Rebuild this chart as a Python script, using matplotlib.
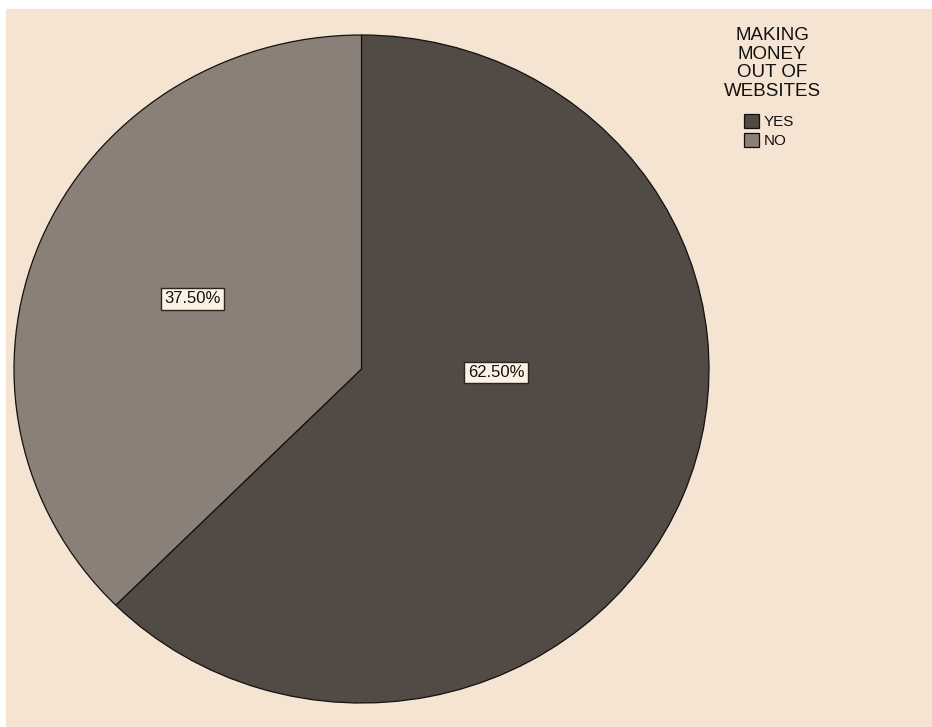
import matplotlib
matplotlib.use("Agg")
import matplotlib.pyplot as plt
from matplotlib.patches import Rectangle

plt.rcParams["font.family"] = ["Liberation Sans", "DejaVu Sans"]

# data
labels = ["YES", "NO"]
shares = [62.5, 37.5]
pct_text = ["62.50%", "37.50%"]
legend_title = "MAKING\nMONEY\nOUT OF\nWEBSITES"

BG = "#F5E4D2"
DARK = "#524A45"
LIGHT = "#8A8078"
BOXBG = "#FDF1E3"
INK = "#111111"

W, H = 932, 727
fig = plt.figure(figsize=(W / 100, H / 100), dpi=100)
fig.patch.set_facecolor("white")
# beige panel (thin white margin on left / top)
fig.add_artist(Rectangle((6 / W, 1 / H), 1 - 6 / W, (H - 10) / H,
                         transform=fig.transFigure, color=BG, zorder=0))

# pie axes: slightly wider than tall, like the original
ax = fig.add_axes([14 / W, (H - 703) / H, 695 / W, 668 / H])
ax.patch.set_alpha(0)
wedges, _ = ax.pie(shares, colors=[DARK, LIGHT], startangle=90,
                   counterclock=False,
                   wedgeprops=dict(edgecolor=INK, linewidth=0.9))
ax.set_aspect("auto")
ax.set_xlim(-1, 1)
ax.set_ylim(-1, 1)
ax.axis("off")

box = dict(boxstyle="square,pad=0.2", facecolor=BOXBG, edgecolor="#2a2622",
           linewidth=1.0)
label_pos = [(0.387, -0.01), (-0.485, 0.21)]
for (x, y), t in zip(label_pos, pct_text):
    ax.text(x, y, t, fontsize=12, color=INK, ha="center",
            va="center", bbox=box)

# legend title as its own text block, entries below it
fig.text(772 / W, 1 - 27 / H, legend_title, fontsize=13.5, color=INK,
         ha="center", va="top", multialignment="center", linespacing=1.12)
leg = ax.legend(wedges, labels, frameon=False,
                loc="upper left", bbox_to_anchor=(744 / W, 1 - 114 / H),
                bbox_transform=fig.transFigure, fontsize=11,
                handlelength=1.0, handleheight=1.0,
                handletextpad=0.3, labelspacing=0.27, borderpad=0,
                borderaxespad=0)
for t in leg.get_texts():
    t.set_color(INK)

fig.savefig("out.png", dpi=100)
